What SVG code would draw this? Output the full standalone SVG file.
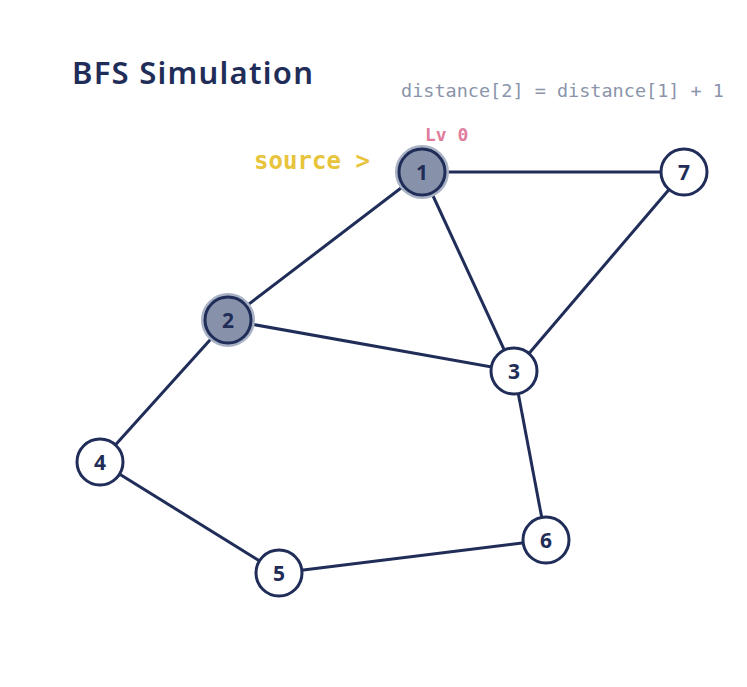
<svg xmlns="http://www.w3.org/2000/svg" width="747" height="687" viewBox="0 0 747 687">
<style>
.edge{stroke:#1f2d58;stroke-width:3;fill:none}
.node circle.main{fill:#fff;stroke:#1f2d58;stroke-width:3}
.node.visited circle.main{fill:#8792aa}
.halo{fill:none;stroke:#a9b1c4;stroke-width:6}
.lbl{font-family:"Noto Sans","DejaVu Sans",sans-serif;font-weight:700;font-size:21px;fill:#1f2d58;text-anchor:middle;dominant-baseline:central}
.mono{font-family:"DejaVu Sans Mono","Liberation Mono",monospace}
</style>
<rect width="747" height="687" fill="#fff"/>
<text x="72" y="84" font-family="Noto Sans, sans-serif" font-weight="600" font-size="31" fill="#1f2d58" textLength="241">BFS Simulation</text>
<text class="mono" x="401" y="97" font-size="18.5" fill="#8a94aa">distance[2] = distance[1] + 1</text>
<text class="mono" x="425" y="141" font-size="18" font-weight="700" fill="#e07c9c">Lv 0</text>
<text class="mono" x="254" y="169" font-size="24" font-weight="700" fill="#e7c43c" textLength="116">source &gt;</text>
<g id="edges">
<line class="edge" x1="422" y1="172" x2="684" y2="172"/>
<line class="edge" x1="422" y1="172" x2="228" y2="320"/>
<line class="edge" x1="422" y1="172" x2="514" y2="371"/>
<line class="edge" x1="684" y1="172" x2="514" y2="371"/>
<line class="edge" x1="228" y1="320" x2="514" y2="371"/>
<line class="edge" x1="228" y1="320" x2="100" y2="462"/>
<line class="edge" x1="514" y1="371" x2="546" y2="540"/>
<line class="edge" x1="100" y1="462" x2="279" y2="573"/>
<line class="edge" x1="279" y1="573" x2="546" y2="540"/>
</g>
<g id="node1" class="node visited"><circle class="halo" cx="422" cy="172" r="24"/><circle class="main" cx="422" cy="172" r="23"/><text class="lbl" x="422" y="172">1</text></g>
<g id="node2" class="node visited"><circle class="halo" cx="228" cy="320" r="24"/><circle class="main" cx="228" cy="320" r="23"/><text class="lbl" x="228" y="320">2</text></g>
<g id="node3" class="node"><circle class="main" cx="514" cy="371" r="23"/><text class="lbl" x="514" y="371">3</text></g>
<g id="node4" class="node"><circle class="main" cx="100" cy="462" r="23"/><text class="lbl" x="100" y="462">4</text></g>
<g id="node5" class="node"><circle class="main" cx="279" cy="573" r="23"/><text class="lbl" x="279" y="573">5</text></g>
<g id="node6" class="node"><circle class="main" cx="546" cy="540" r="23"/><text class="lbl" x="546" y="540">6</text></g>
<g id="node7" class="node"><circle class="main" cx="684" cy="172" r="23"/><text class="lbl" x="684" y="172">7</text></g>
</svg>
